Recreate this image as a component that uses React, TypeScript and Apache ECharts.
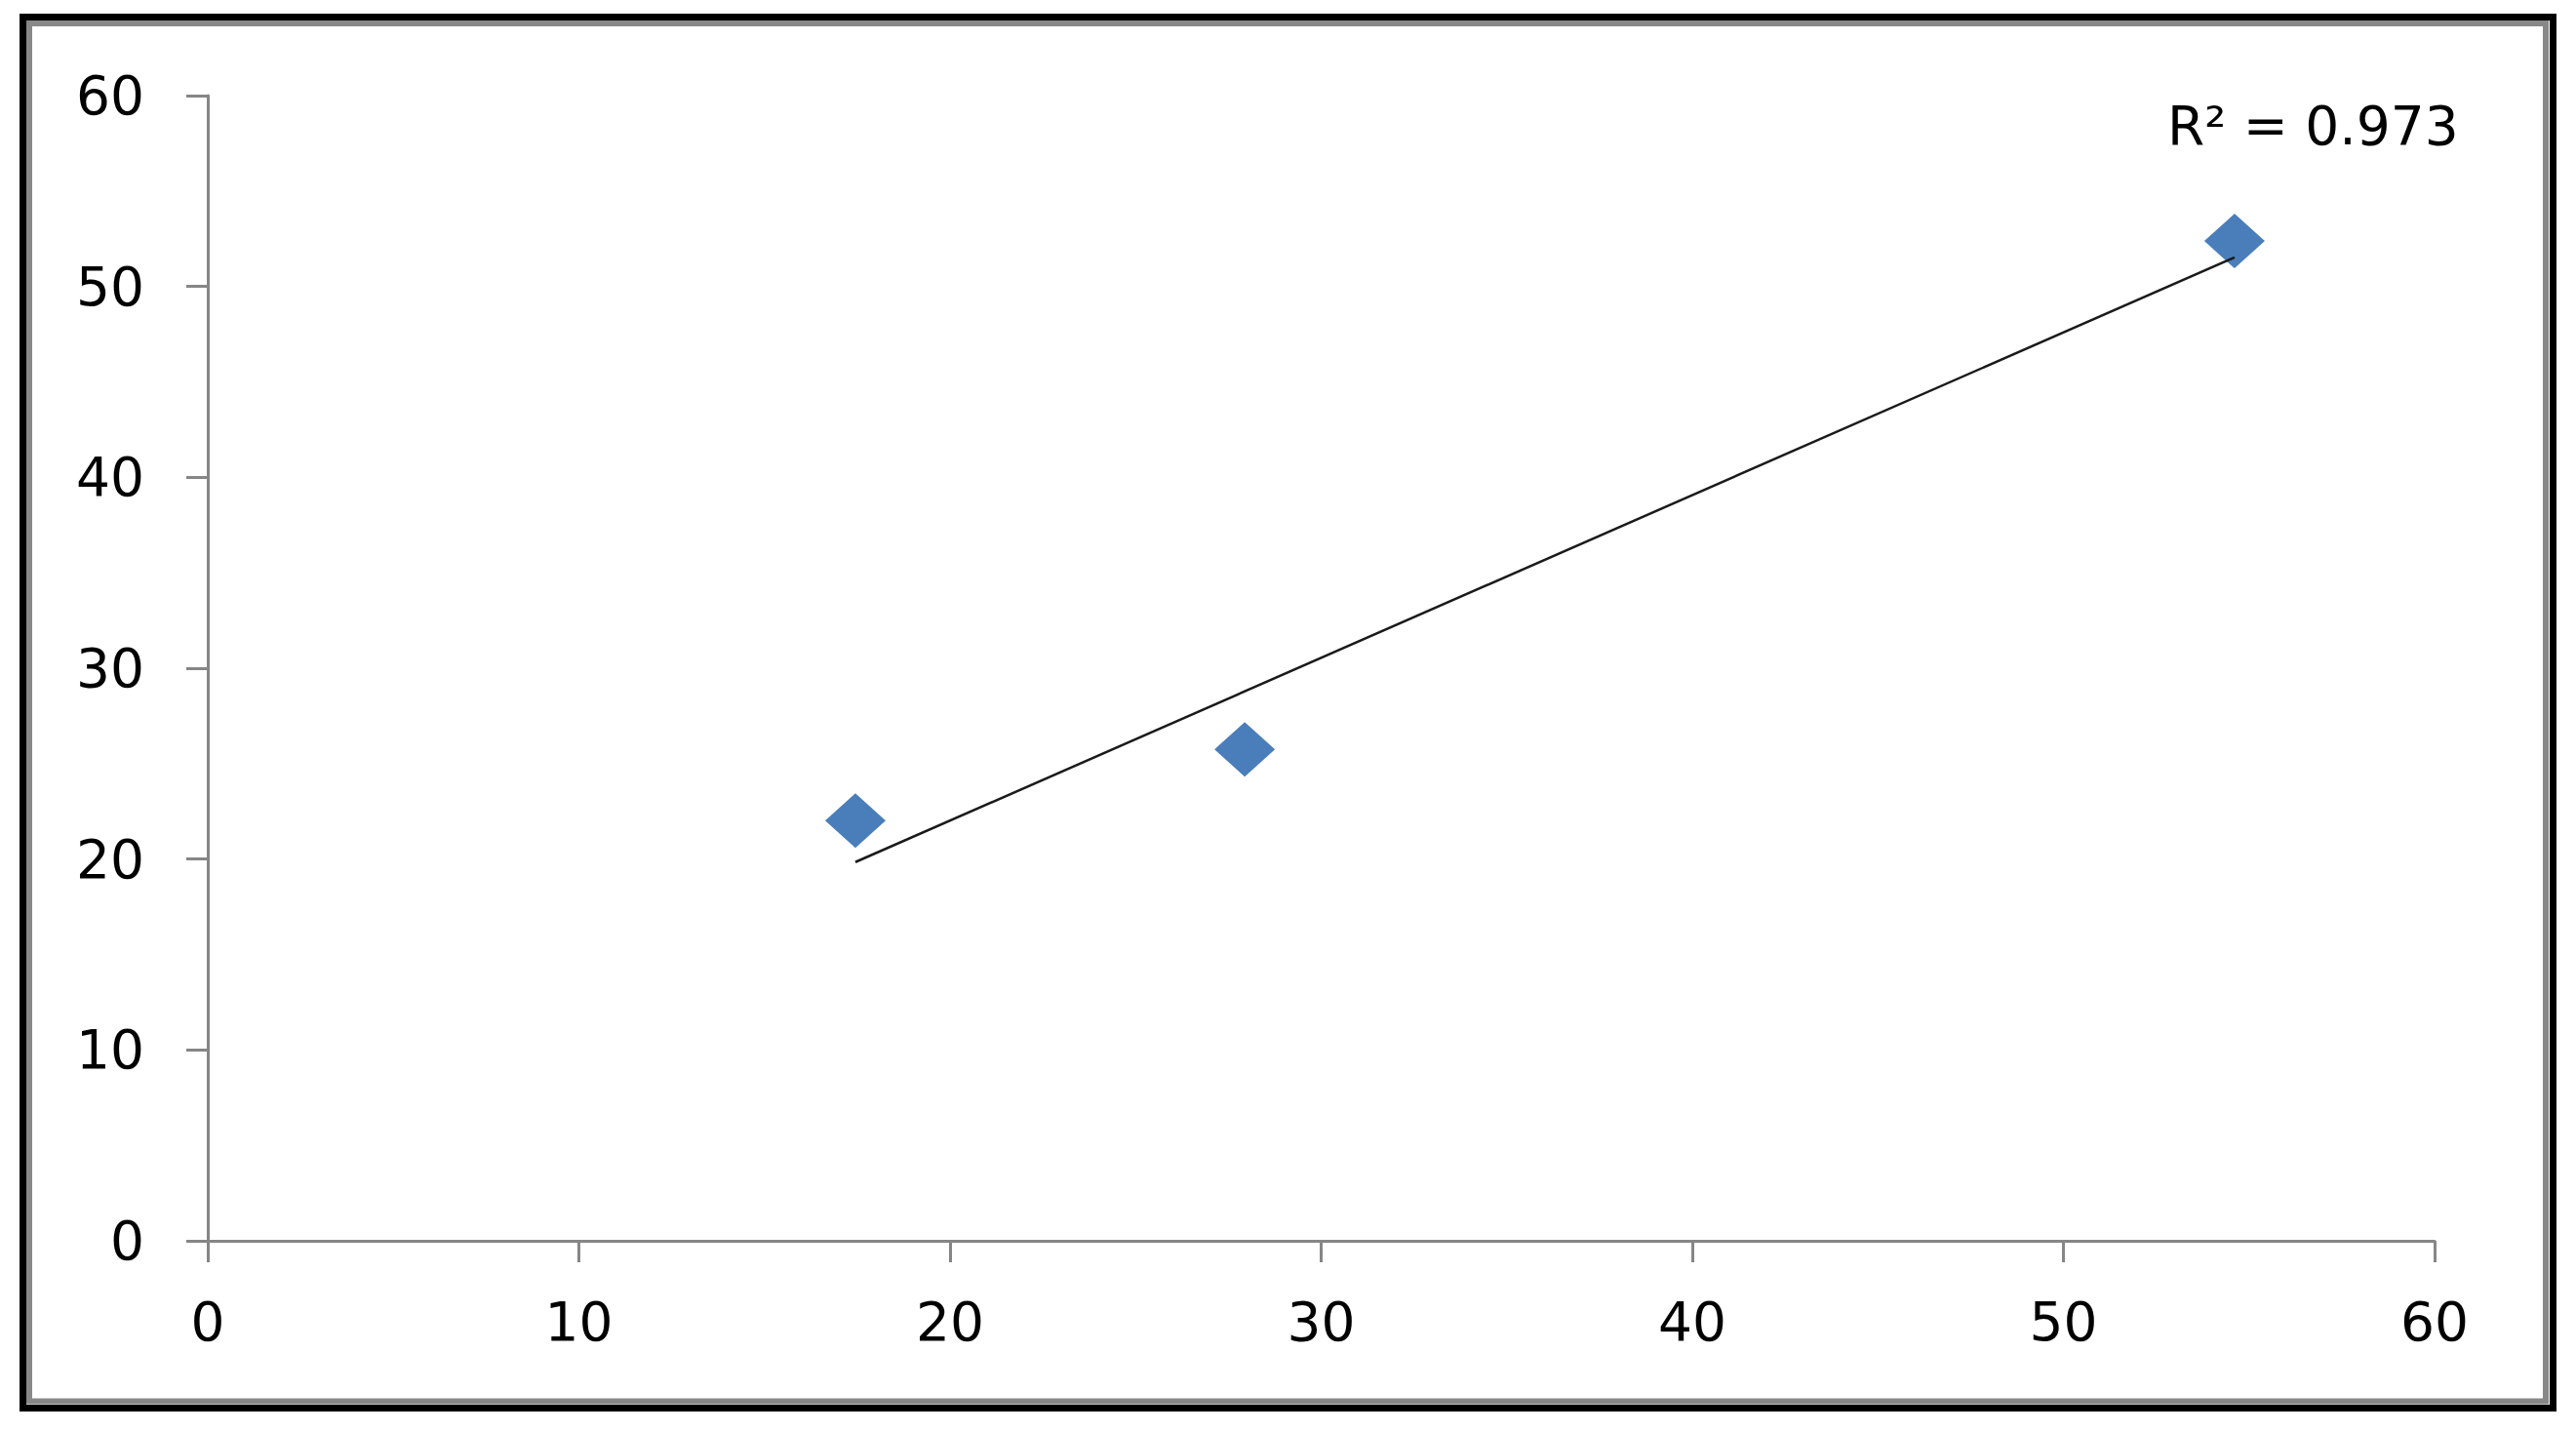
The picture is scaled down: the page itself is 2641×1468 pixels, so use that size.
import React, { useEffect, useRef } from "react";
import * as echarts from "echarts";

const xValues = [17.45, 27.94, 54.61];
const yValues = [22.02, 25.75, 52.38];
const xTicks = [0, 10, 20, 30, 40, 50, 60];
const yTicks = [0, 10, 20, 30, 40, 50, 60];
const rSquaredLabel = "R² = 0.973";

function regression(xs: number[], ys: number[]) {
  const n = xs.length;
  const mx = xs.reduce((a, b) => a + b, 0) / n;
  const my = ys.reduce((a, b) => a + b, 0) / n;
  let sxy = 0, sxx = 0;
  for (let i = 0; i < n; i++) {
    sxy += (xs[i] - mx) * (ys[i] - my);
    sxx += (xs[i] - mx) * (xs[i] - mx);
  }
  const slope = sxy / sxx;
  return { slope, intercept: my - slope * mx };
}

export default function App() {
  const ref = useRef<HTMLDivElement>(null);
  useEffect(() => {
    document.body.style.margin = "0";
    const chart = echarts.init(ref.current!, null, { renderer: "svg" });
    const { slope, intercept } = regression(xValues, yValues);
    const xMin = Math.min(...xValues);
    const xMax = Math.max(...xValues);
    const trend = [
      [xMin, slope * xMin + intercept],
      [xMax, slope * xMax + intercept],
    ];
    const font = "DejaVu Sans";
    const axisCommon = {
      type: "value" as const,
      interval: 10,
      splitLine: { show: false },
      axisLine: { show: true, lineStyle: { color: "#868686", width: 3 } },
      axisTick: { show: true, length: 22, lineStyle: { color: "#868686", width: 3 } },
    };
    chart.setOption({
      animation: false,
      backgroundColor: "#ffffff",
      grid: { left: 213, right: 145, top: 98, bottom: 196, containLabel: false },
      xAxis: {
        ...axisCommon,
        min: xTicks[0],
        max: xTicks[xTicks.length - 1],
        axisLabel: { color: "#000", fontFamily: font, fontSize: 55, margin: 55 },
      },
      yAxis: {
        ...axisCommon,
        min: yTicks[0],
        max: yTicks[yTicks.length - 1],
        axisLabel: { color: "#000", fontFamily: font, fontSize: 55, margin: 65 },
      },
      series: [
        {
          type: "line",
          data: trend,
          symbol: "none",
          lineStyle: { color: "#1a1a1a", width: 2.5 },
          z: 3,
        },
        {
          type: "scatter",
          data: xValues.map((x, i) => [x, yValues[i]]),
          symbol: "diamond",
          symbolSize: [62, 56],
          itemStyle: { color: "#4A7EBB", opacity: 1 },
          z: 2,
        },
      ],
      graphic: [
        {
          type: "rect",
          shape: { x: 23.5, y: 17.5, width: 2594, height: 1426 },
          style: { fill: "none", stroke: "#000", lineWidth: 7 },
          silent: true,
        },
        {
          type: "rect",
          shape: { x: 30, y: 24, width: 2580, height: 1412.5 },
          style: { fill: "none", stroke: "#888888", lineWidth: 6 },
          silent: true,
        },
        {
          type: "text",
          x: 2222,
          y: 129,
          style: {
            text: rSquaredLabel,
            fill: "#000",
            font: `55px "${font}"`,
            verticalAlign: "middle",
            align: "left",
          },
        },
      ],
    });
    return () => chart.dispose();
  }, []);
  return <div ref={ref} style={{ width: 2641, height: 1468 }} />;
}
